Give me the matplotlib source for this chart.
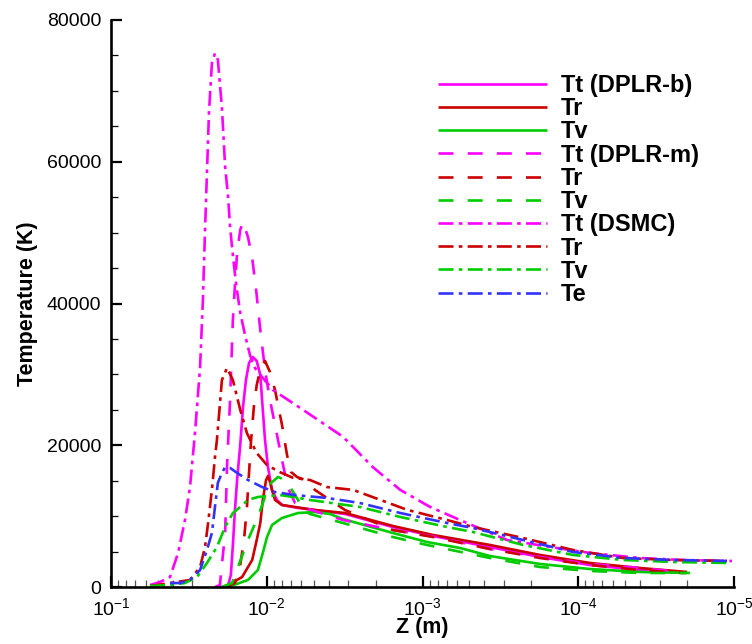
import matplotlib
matplotlib.use('Agg')
import matplotlib.pyplot as plt
from matplotlib.ticker import MultipleLocator, LogLocator, NullFormatter, FuncFormatter

plt.rcParams['font.family'] = ['Liberation Sans', 'DejaVu Sans']
plt.rcParams['mathtext.fontset'] = 'custom'
plt.rcParams['mathtext.rm'] = 'Liberation Sans'
plt.rcParams['mathtext.it'] = 'Liberation Sans:italic'
plt.rcParams['mathtext.bf'] = 'Liberation Sans:bold'
plt.rcParams['lines.scale_dashes'] = False

# ---------------- data (Z in m, T in K) ----------------
# DPLR-b
z_tt_b = [0.0194, 0.0177, 0.0170, 0.0165, 0.0160, 0.0155, 0.0148, 0.0142, 0.0136, 0.0130,
          0.0123, 0.0116, 0.0110, 0.0106, 0.01026, 0.00982, 0.00925, 0.00860, 0.00798,
          0.00630, 0.00490, 0.00314, 0.00155, 0.000856, 0.000369, 0.000176, 8.41e-5,
          4.01e-5, 2.13e-5]
t_tt_b = [0, 280, 1690, 5920, 10860, 15100, 20030, 25400, 29200, 31600,
          32450, 31900, 29900, 24970, 20740, 16930, 13690, 12280, 11570,
          11150, 10860, 10300, 8460, 7200, 5640, 4230, 3100,
          2400, 1980]

z_tr_b = [0.0185, 0.0144, 0.0124, 0.0116, 0.0110, 0.0106, 0.0101, 0.00982, 0.00953,
          0.00925, 0.00885, 0.00798, 0.00658, 0.00490, 0.00314, 0.00155, 0.000856,
          0.000369, 0.000176, 8.41e-5, 4.01e-5, 2.00e-5]
t_tr_b = [0, 1410, 3810, 6630, 9030, 12280, 15100, 15660, 14810,
          13690, 12280, 11570, 11290, 10860, 10440, 8610, 7340,
          5930, 4520, 3390, 2680, 2120]

z_tv_b = [0.0177, 0.0132, 0.0114, 0.0106, 0.00996, 0.00925, 0.00798, 0.00630, 0.00490,
          0.00393, 0.00324, 0.00155, 0.000936, 0.000574, 0.000369, 0.000176, 8.41e-5,
          4.01e-5, 1.92e-5]
t_tv_b = [0, 990, 2400, 4800, 7050, 8750, 9740, 10440, 10580,
          10300, 9590, 7620, 6350, 5500, 4370, 3250, 2540,
          2120, 1980]

# DPLR-m
z_tt_m = [0.0215, 0.0200, 0.0185, 0.0180, 0.0172, 0.0165, 0.0160, 0.0155, 0.0148, 0.0142,
          0.0132, 0.0124, 0.0117, 0.0110, 0.01026, 0.00953, 0.00872, 0.00798, 0.00731,
          0.00658, 0.00568, 0.00324, 0.00155, 0.000807, 0.000369, 0.000176, 8.41e-5,
          4.01e-5, 2.22e-5]
t_tt_m = [0, 280, 7620, 16930, 26380, 37670, 42610, 47130, 50370, 51500,
          49380, 46420, 41900, 36260, 30620, 26380, 22150, 17920, 13970,
          11850, 11150, 9450, 8040, 7050, 5360, 4230, 3250,
          2680, 2120]

z_tr_m = [0.0185, 0.0160, 0.0148, 0.0140, 0.0134, 0.0130, 0.0126, 0.0121, 0.0116, 0.0109,
          0.01026, 0.00953, 0.00885, 0.00798, 0.00741, 0.00699, 0.00639, 0.00568, 0.00490,
          0.00393, 0.00314, 0.00155, 0.000856, 0.000369, 0.000176, 8.41e-5, 4.01e-5, 2.06e-5]
t_tr_m = [0, 560, 3100, 6630, 11290, 16080, 20740, 25400, 28500, 31040,
          31890, 30330, 27800, 22860, 18620, 16230, 15520, 15100, 13690,
          12280, 10860, 8040, 7050, 5360, 4090, 3100, 2400, 1980]

z_tv_m = [0.0194, 0.0167, 0.0153, 0.0132, 0.0114, 0.01026, 0.00939, 0.00847, 0.00764,
          0.00689, 0.00630, 0.00585, 0.00528, 0.00324, 0.00155, 0.000936, 0.000369,
          0.000176, 8.41e-5, 4.01e-5, 2.00e-5]
t_tv_m = [0, 560, 2820, 6630, 9880, 12700, 14670, 15520, 15100,
          13690, 12280, 10860, 10300, 9030, 7050, 5930, 4090,
          2820, 2260, 1975, 1975]

# DSMC
z_tt_d = [0.0562, 0.0485, 0.0418, 0.0371, 0.0335, 0.0311, 0.0289, 0.0268, 0.0257, 0.0249,
          0.0242, 0.0235, 0.0225, 0.0215, 0.0206, 0.0194, 0.0185, 0.0177, 0.0172, 0.0165,
          0.0157, 0.0148, 0.0138, 0.0128, 0.0119, 0.0107, 0.00912, 0.00585, 0.00324,
          0.00208, 0.00139, 0.000895, 0.000574, 0.000287, 0.000137, 8.41e-5, 4.01e-5,
          2.13e-5, 1.03e-5]
t_tt_d = [280, 700, 1400, 4800, 9450, 14100, 21700, 31000, 40500, 50400,
          58500, 66900, 73900, 75300, 74400, 67600, 59300, 55000, 50800, 46800,
          42600, 38700, 35600, 32700, 30900, 29600, 27800, 25000, 21200,
          16900, 13700, 11300, 9450, 6630, 5500, 4800, 4090,
          3810, 3670]

z_tr_d = [0.0562, 0.0418, 0.0311, 0.0268, 0.0249, 0.0238, 0.0225, 0.0215, 0.0209, 0.0194,
          0.0180, 0.0165, 0.0148, 0.0134, 0.0116, 0.00996, 0.00822, 0.00678, 0.00528,
          0.00410, 0.00279, 0.00187, 0.00126, 0.000696, 0.000474, 0.000226, 0.000108,
          5.16e-5, 2.46e-5, 1.11e-5]
t_tr_d = [140, 560, 990, 2820, 5640, 9030, 13700, 18300, 20700, 29200,
          30900, 29200, 25000, 21700, 18900, 17200, 16200, 15400, 15100,
          14100, 13700, 12300, 10900, 9450, 8470, 6910, 5220,
          4090, 3810, 3670]

z_tv_d = [0.0562, 0.0418, 0.0335, 0.0280, 0.0242, 0.0209, 0.0185, 0.0165, 0.0148, 0.0132,
          0.0114, 0.00953, 0.00822, 0.00678, 0.00528, 0.00252, 0.00139, 0.000696,
          0.000474, 0.000226, 0.000108, 5.16e-5, 2.46e-5, 1.11e-5]
t_tv_d = [140, 280, 560, 1410, 3390, 5640, 8470, 10440, 11290, 12280,
          12700, 12840, 12980, 12700, 12280, 11290, 9880, 8470,
          7760, 5930, 4520, 3810, 3530, 3390]

z_te_d = [0.0418, 0.0361, 0.0311, 0.0268, 0.0242, 0.0225, 0.0215, 0.0206, 0.0194, 0.0185,
          0.0172, 0.0155, 0.0132, 0.0107, 0.00885, 0.00678, 0.00410, 0.00252, 0.00139,
          0.000696, 0.000474, 0.000226, 0.000108, 5.16e-5, 2.46e-5, 1.11e-5]
t_te_d = [560, 560, 990, 2400, 5220, 7620, 11300, 14700, 16100, 16900,
          16800, 16100, 15100, 14100, 13400, 13000, 12560, 11850, 10440,
          9030, 8320, 6630, 4940, 4090, 3810, 3670]

labels = ['Tt (DPLR-b)', 'Tr', 'Tv', 'Tt (DPLR-m)', 'Tr', 'Tv',
          'Tt (DSMC)', 'Tr', 'Tv', 'Te']

# ---------------- styles ----------------
MAG, RED, GRN, BLU = '#ff00ff', '#cc0000', '#00cc00', '#3333ff'
solid = (0, ())
dashed = (0, (10.8, 10.2))
dashdot = (0, (10.8, 3.8, 2.6, 3.8))

series = [
    (z_tt_b, t_tt_b, MAG, solid), (z_tr_b, t_tr_b, RED, solid), (z_tv_b, t_tv_b, GRN, solid),
    (z_tt_m, t_tt_m, MAG, dashed), (z_tr_m, t_tr_m, RED, dashed), (z_tv_m, t_tv_m, GRN, dashed),
    (z_tt_d, t_tt_d, MAG, dashdot), (z_tr_d, t_tr_d, RED, dashdot), (z_tv_d, t_tv_d, GRN, dashdot),
    (z_te_d, t_te_d, BLU, dashdot),
]

fig = plt.figure(figsize=(7.52, 6.44), dpi=100)
ax = fig.add_axes([111 / 752, 1 - 587 / 644, 623 / 752, 567 / 644])

for (z, t, c, ls), lab in zip(series, labels):
    ax.plot(z, t, color=c, linestyle=ls, linewidth=1.9, label=lab)

ax.set_xscale('log')
ax.set_xlim(1e-1, 1e-5)
ax.set_ylim(0, 80000)

ax.xaxis.set_major_locator(LogLocator(base=10, numticks=10))
ax.xaxis.set_minor_locator(LogLocator(base=10, subs=range(2, 10), numticks=100))
ax.xaxis.set_minor_formatter(NullFormatter())
ax.yaxis.set_major_locator(MultipleLocator(20000))
ax.yaxis.set_minor_locator(MultipleLocator(5000))
ax.yaxis.set_major_formatter(FuncFormatter(lambda v, p: f'{v:.0f}'))

for s in ['top', 'right']:
    ax.spines[s].set_visible(False)
for s in ['left', 'bottom']:
    ax.spines[s].set_linewidth(1.9)

ax.tick_params(axis='both', which='major', direction='in', length=8, width=1.6,
               labelsize=14, colors='black')
ax.tick_params(axis='both', which='minor', direction='in', length=5, width=0.9)
ax.tick_params(axis='x', which='minor', colors='#555555')
ax.tick_params(axis='y', which='major', pad=7)
ax.tick_params(axis='x', which='major', pad=7)

ax.set_xlabel('Z (m)', fontsize=15.5, fontweight='bold', labelpad=-1)
ax.set_ylabel('Temperature (K)', fontsize=15.5, fontweight='bold', labelpad=6)

leg = ax.legend(loc='upper left', bbox_to_anchor=(0.525, 0.905), frameon=False,
                borderpad=0, borderaxespad=0, handlelength=4.6, handletextpad=0.6,
                labelspacing=0.01, prop={'weight': 'bold', 'size': 17})

fig.savefig('out.png', dpi=100)
